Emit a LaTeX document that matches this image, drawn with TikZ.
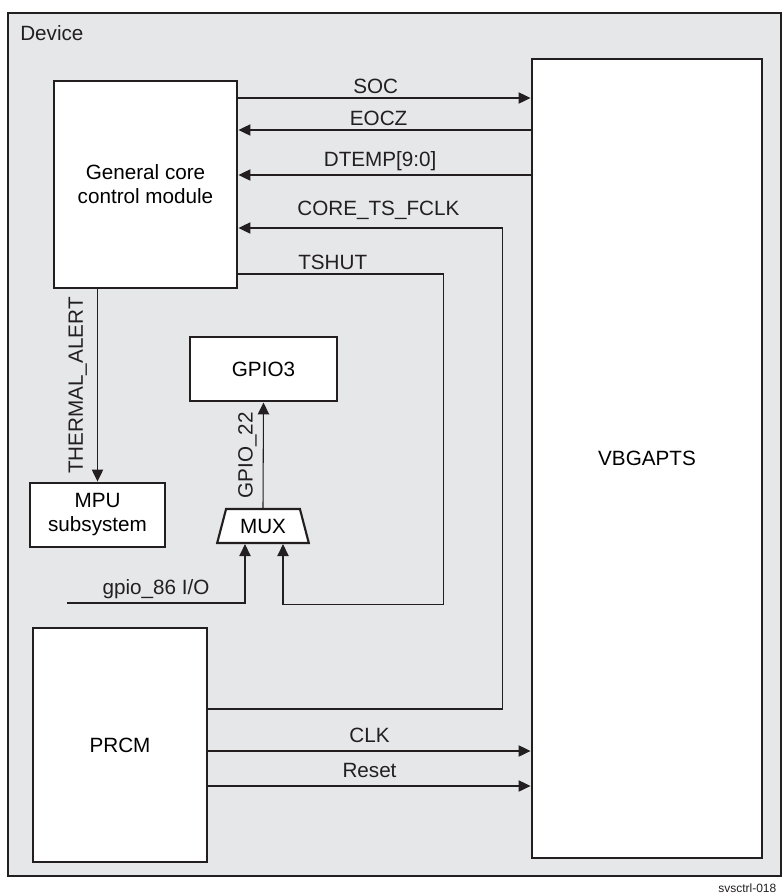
\documentclass[tikz,border=0pt]{standalone}
\usepackage{fontspec}
\setmainfont{Liberation Sans}
\usetikzlibrary{arrows.meta,positioning,calc,shapes.geometric}
\definecolor{DevFundo}{RGB}{230,231,232}
\definecolor{DevLinha}{RGB}{35,31,32}
\tikzset{
  bloco/.style={draw=DevLinha, fill=white, line width=2.2pt, align=center,
                font=\fontsize{15.5}{18}\selectfont, inner sep=0pt},
  seta/.style={-{Triangle[length=9pt, width=8.5pt]}, line width=0.8pt, DevLinha},
  rotulo/.style={font=\fontsize{15.5}{18}\selectfont, text=DevLinha, inner sep=3pt},
  rotulov/.style={rotulo, rotate=90, anchor=south},
}

\begin{document}
\begin{tikzpicture}[x=0.75pt, y=-0.75pt]
  \useasboundingbox (0,0) rectangle (782,894);

  % Moldura do dispositivo
  \node[draw=DevLinha, fill=DevFundo, line width=1.5pt, inner sep=0pt,
        minimum width=579.75pt, minimum height=647.25pt] (device) at (394.5,444.5) {};
  \node[rotulo, anchor=west] (devlbl) at (16,33) {Device};
  \node[anchor=east, font=\fontsize{9}{10}\selectfont, text=DevLinha] (figid) at (781,888) {svsctrl-018};

  % Blocos
  \node[bloco, minimum width=137.25pt, minimum height=155.25pt] (gccm) at (145.5,184.5) {General core\\control module};
  \node[bloco, minimum width=172.5pt, minimum height=599.25pt] (vbg) at (647,458.5) {VBGAPTS};
  \node[bloco, minimum width=101.25pt, minimum height=48pt] (mpu) at (97.5,515) {MPU\\subsystem};
  \node[bloco, minimum width=110.25pt, minimum height=48pt] (gpio3) at (263.5,369) {GPIO3};
  \node[bloco, line width=1.6pt, trapezium, trapezium angle=69, trapezium stretches=true,
        minimum width=69pt, minimum height=25.5pt] (mux) at (263,526) {MUX};
  \node[bloco, minimum width=130.5pt, minimum height=175.5pt] (prcm) at (120,745) {PRCM};
  \coordinate (gpioin) at (67,603);

  % Sinais entre o modulo de controle e o VBGAPTS
  \draw[seta] (gccm.east |- 0,98) -- node[rotulo, above, pos=0.47] {SOC} (vbg.west |- 0,98);
  \draw[seta] (vbg.west |- 0,130) -- node[rotulo, above, pos=0.52] {EOCZ} (gccm.east |- 0,130);
  \draw[seta] (vbg.west |- 0,175) -- node[rotulo, above, pos=0.515] {DTEMP[9:0]} (gccm.east |- 0,175);
  \draw[seta] (prcm.east |- 0,709) -- ++(294,0)
    |- node[rotulo, above, pos=0.735, inner sep=6pt] {CORE\_TS\_FCLK} (gccm.east |- 0,228);
  \draw[seta] (gccm.east |- 0,274) -- node[rotulo, above, pos=0.46] {TSHUT} ++(205,0)
    |- ($(mux.south)+(20,60)$) -- ($(mux.south)+(20,0)$);

  % Alerta, GPIO e MUX
  \draw[seta] (gccm.south -| mpu.north) -- node[rotulov, pos=0.5, inner sep=7.5pt] {THERMAL\_ALERT} (mpu.north);
  \draw[seta] (gpioin) -| node[rotulo, above, pos=0.25] {gpio\_86 I/O} ($(mux.south)+(-18,0)$);
  \draw[seta] (mux.north) -- node[rotulov, inner sep=4.5pt] {GPIO\_22} (gpio3.south);

  % PRCM para o VBGAPTS
  \draw[seta] (prcm.east |- 0,751) -- node[rotulo, above, inner sep=6pt] {CLK} (vbg.west |- 0,751);
  \draw[seta] (prcm.east |- 0,786) -- node[rotulo, above, inner sep=6pt] {Reset} (vbg.west |- 0,786);
\end{tikzpicture}
\end{document}
